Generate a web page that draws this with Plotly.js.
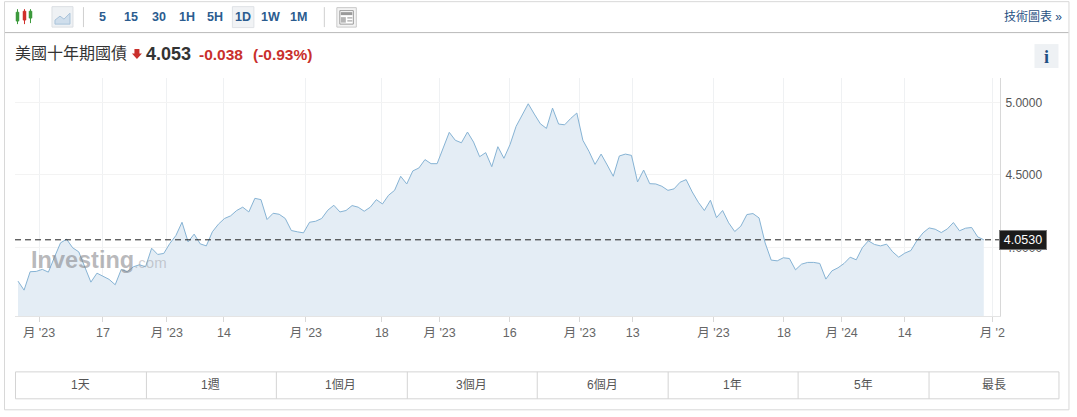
<!DOCTYPE html>
<html>
<head>
<meta charset="utf-8">
<script src="https://cdn.plot.ly/plotly-3.0.1.min.js"></script>
<style>html,body{margin:0;padding:0;background:#fff;overflow:hidden}#c{width:1077px;height:417px}</style>
</head>
<body>
<div id="c"></div>
<script>
const yields = [
3.768,3.706,3.833,3.835,3.849,3.830,3.933,4.032,4.057,3.998,3.970,3.860,3.761,3.823,3.803,3.780,3.743,3.849,3.833,3.867,
3.881,3.867,3.995,3.952,3.959,4.028,4.083,4.174,4.039,4.092,4.025,4.011,4.108,4.161,4.200,4.218,4.255,4.278,4.245,4.339,
4.330,4.193,4.236,4.229,4.200,4.117,4.108,4.101,4.174,4.181,4.200,4.257,4.291,4.245,4.255,4.289,4.278,
4.250,4.278,4.330,4.300,4.360,4.394,4.491,4.438,4.528,4.548,4.606,4.578,4.578,4.686,4.794,4.739,4.722,4.796,4.727,4.626,
4.654,4.557,4.695,4.615,4.709,4.835,4.913,4.991,4.920,4.853,4.821,4.961,4.851,4.846,4.890,4.927,4.739,4.663,4.573,4.644,
4.569,4.491,4.631,4.644,4.635,4.452,4.534,4.440,4.438,4.422,4.394,4.404,4.450,4.468,4.383,4.312,
4.255,4.326,4.206,4.255,4.170,4.110,4.147,4.227,4.234,4.204,4.032,3.913,3.908,3.929,3.924,3.846,3.885,3.897,3.897,3.890,
3.782,3.839,3.860,3.890,3.933,3.915,3.998,4.046,4.021,4.011,4.023,3.970,3.933,3.961,3.979,4.048,4.101,4.135,4.126,4.103,
4.128,4.172,4.115,4.133,4.138,4.073,4.053];
const sessions = yields.map((_, i) => i);
const xTickVals = [3.46,13.99,24.5,33.9,47.4,59.9,69.4,80.96,92.5,101.2,114.5,126.1,135.6,146,160.4];
const xTickText = ["月 '23","17","月 '23","14","月 '23","18","月 '23","16","月 '23","13","月 '23","18","月 '24","14","月 '2"];
const yTickVals = [4,4.5,5];
const yTickText = ["4.0000","4.5000","5.0000"];
const lastValue = 4.053;
const lastLabel = "4.0530";
const intervals = ["5","15","30","1H","5H","1D","1W","1M"];
const ranges = ["1天","1週","1個月","3個月","6個月","1年","5年","最長"];
const titleText = "美國十年期國債";
const priceText = "4.053";
const changeText = "-0.038";
const changePctText = "(-0.93%)";
const techText = "技術圖表 »";

const W=1077,H=417,ML=15,MR=76.5,MT=78,MB=100.5;
const PW=W-ML-MR, PH=H-MT-MB;
const fx=x=>(x-ML)/PW, fy=y=>(H-MB-y)/PH;
const FONT='"Liberation Sans","Noto Sans CJK TC",sans-serif';
const shapes=[], ann=[];
function rect(x0,y0,x1,y1,line,fill,w,layer){shapes.push({type:'rect',xref:'paper',yref:'paper',x0:fx(x0),x1:fx(x1),y0:fy(y0),y1:fy(y1),line:{color:line||'rgba(0,0,0,0)',width:w===undefined?1:w},fillcolor:fill||'rgba(0,0,0,0)',layer:layer||'above'});}
function seg(x0,y0,x1,y1,c,w){shapes.push({type:'line',xref:'paper',yref:'paper',x0:fx(x0),x1:fx(x1),y0:fy(y0),y1:fy(y1),line:{color:c,width:w||1},layer:'above'});}
function txt(x,y,t,size,color,anchor,fam){ann.push({xref:'paper',yref:'paper',x:fx(x),y:fy(y),text:t,showarrow:false,xanchor:anchor||'center',yanchor:'middle',font:{size:size,color:color,family:fam||FONT},borderpad:0,borderwidth:0});}

// card frame
rect(4.5,1.5,1069.5,410.5,'#d8d8d8',null,1,'below');
seg(5,32.5,1069,32.5,'#b9b9b9',1);

// candle icon
[[17.5,'#3d9a3d',9,24,12,21],[24.5,'#d0302c',9,24,11,20],[30.5,'#3d9a3d',9,23,11,18]].forEach(c=>{
  seg(c[0],c[2],c[0],c[3],c[1],1);
  rect(c[0]-1.5,c[4],c[0]+1.5,c[5],c[1],c[1],0.5);
});
// area icon button
rect(52,6.5,73,27,'#dcdfe3','#eef1f4',1);
shapes.push({type:'path',xref:'paper',yref:'paper',path:`M ${fx(55)} ${fy(24)} L ${fx(55)} ${fy(20)} L ${fx(60)} ${fy(16)} L ${fx(64)} ${fy(19)} L ${fx(70)} ${fy(13)} L ${fx(70)} ${fy(24)} Z`,fillcolor:'#cfdeec',line:{color:'#a9c3da',width:1},layer:'above'});
seg(83.5,7,83.5,27,'#cfcfcf',1);
seg(324.5,7,324.5,27,'#cfcfcf',1);
// 1D highlight
rect(232.5,6.5,254,27.5,'#dfe2e6','#f1f3f5',1);
const intervalX=[103,131,159,187,215,243,271,299];
intervals.forEach((t,i)=>txt(intervalX[i],17,'<b>'+t+'</b>',12.5,'#2b5c8f'));
// layout icon
rect(337,7.5,356.5,27,'#c9c9c9','#f3f3f3',1);
rect(340,10.5,353.5,24,'#9a9a9a','#ffffff',1);
rect(341,12,352.5,15,'rgba(0,0,0,0)','#9a9a9a',0);
rect(341,17,346,22.5,'rgba(0,0,0,0)','#b5b5b5',0);
rect(347.5,17,352.5,18.5,'rgba(0,0,0,0)','#b5b5b5',0);
rect(347.5,20,352.5,21.5,'rgba(0,0,0,0)','#b5b5b5',0);
txt(1063,16.5,techText,12,'#1f4f82','right');

// header
txt(15,53,titleText,16,'#333333','left');
shapes.push({type:'path',xref:'paper',yref:'paper',path:`M ${fx(134.5)} ${fy(49)} L ${fx(139.5)} ${fy(49)} L ${fx(139.5)} ${fy(53.5)} L ${fx(142)} ${fy(53.5)} L ${fx(137)} ${fy(59)} L ${fx(132)} ${fy(53.5)} L ${fx(134.5)} ${fy(53.5)} Z`,fillcolor:'#c9302c',line:{width:0},layer:'above'});
txt(146,53.5,'<b>'+priceText+'</b>',18,'#333333','left');
txt(199,54,'<b>'+changeText+'</b>',15.5,'#c9302c','left');
txt(253,54,'<b>'+changePctText+'</b>',15.5,'#c9302c','left');
rect(1035,44,1059,68,null,'#eef1f4',0);
txt(1047,56.5,'<b>i</b>',18,'#1f4f82','center','"Liberation Serif",serif');

// range buttons
rect(15.5,372.5,1059.5,399.5,'#d4d4d4',null,1);
[146.5,276.5,407.5,537.5,668.5,798.5,929.5].forEach(x=>seg(x,372.5,x,399.5,'#d4d4d4',1));
const rangeX=[81,211,341,472,603,733,864,994];
ranges.forEach((t,i)=>txt(rangeX[i],385.5,t,12,'#555555'));

// watermark
ann.push({xref:'paper',yref:'paper',x:fx(30),y:fy(260),xanchor:'left',yanchor:'middle',showarrow:false,borderpad:0,
  text:'<b><span style="font-size:23.5px;color:rgba(125,125,130,0.55)">Investing</span></b><span style="font-size:15px;color:rgba(150,150,155,0.45)">.com</span>',font:{family:FONT,size:23.5}});

// hide the grid line of the last, partly cut tick
shapes.push({type:'rect',xref:'x',yref:'paper',x0:160.15,x1:160.65,y0:0.003,y1:1,fillcolor:'#fff',line:{width:0},layer:'between'});

// last price line and label
shapes.push({type:'line',xref:'paper',yref:'y',x0:0,x1:1,y0:lastValue,y1:lastValue,line:{color:'#222222',width:1,dash:'6px,4px'},layer:'above'});
ann.push({xref:'paper',yref:'y',x:fx(1024),y:lastValue,text:lastLabel,showarrow:false,xanchor:'center',yanchor:'middle',yshift:-0.5,
  font:{size:12.5,color:'#ffffff',family:FONT},bgcolor:'#1c1c1c',bordercolor:'#777777',borderwidth:1,borderpad:1,width:44,height:16});

const trace={type:'scatter',mode:'lines',x:sessions,y:yields,fill:'tozeroy',fillcolor:'#e4edf5',line:{color:'#86b3d4',width:1},hoverinfo:'skip'};
const layout={width:W,height:H,margin:{l:ML,r:MR,t:MT,b:MB,pad:0},paper_bgcolor:'#fff',plot_bgcolor:'#fff',showlegend:false,font:{family:FONT},
 xaxis:{range:[-0.494,161.67],tickmode:'array',tickvals:xTickVals,ticktext:xTickText,ticks:'outside',ticklen:5,tickcolor:'#d8d8d8',tickwidth:1,showgrid:true,gridcolor:'#eff1f3',gridwidth:1,zeroline:false,showline:true,linecolor:'#e4e4e4',linewidth:1,tickfont:{size:12.5,color:'#666666',family:FONT},tickangle:0,automargin:false},
 yaxis:{side:'right',range:[3.5276,5.1686],tickmode:'array',tickvals:yTickVals,ticktext:yTickText,ticks:'',ticklabelstandoff:2,showgrid:true,gridcolor:'#f3f3f3',gridwidth:1,zeroline:false,showline:true,linecolor:'#d8d8d8',linewidth:1,tickfont:{size:12,color:'#555555',family:FONT},automargin:false},
 shapes:shapes,annotations:ann};
Plotly.newPlot('c',[trace],layout,{staticPlot:true,displayModeBar:false});
</script>
</body>
</html>
